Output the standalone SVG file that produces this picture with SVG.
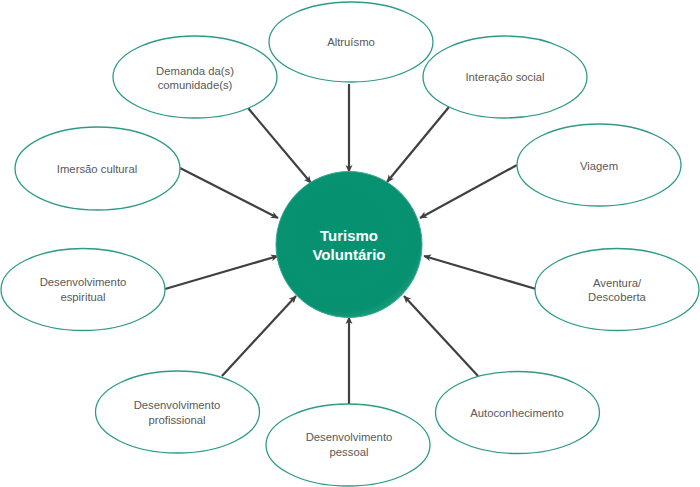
<svg xmlns="http://www.w3.org/2000/svg" width="700" height="487" viewBox="0 0 700 487">
  <defs>
    <marker id="arr" markerUnits="userSpaceOnUse" markerWidth="10" markerHeight="10" refX="8" refY="5" orient="auto">
      <path d="M1,1.5 L8.5,5 L1,8.5 L3,5 z" fill="#404040"/>
    </marker>
    <radialGradient id="g" cx="0.45" cy="0.42" r="0.6">
      <stop offset="0" stop-color="#05926f"/>
      <stop offset="0.9" stop-color="#079171"/>
      <stop offset="1" stop-color="#1c9d7d"/>
    </radialGradient>
  </defs>
  <style>
    .n ellipse { fill: #ffffff; stroke: #2f9a87; stroke-width: 1.3; }
    .n text { font-family: "Liberation Sans", Arial, sans-serif; font-size: 11.3px; fill: #595959; text-anchor: middle; }
    .c text { font-family: "Liberation Sans", Arial, sans-serif; font-size: 15px; font-weight: bold; fill: #ffffff; text-anchor: middle; }
    #edges line { stroke: #404040; stroke-width: 2.2; marker-end: url(#arr); }
  </style>
  <rect width="700" height="487" fill="#ffffff"/>

  <g id="edges">
    <line x1="248" y1="108" x2="311" y2="183"/>
    <line x1="349" y1="84" x2="349" y2="172"/>
    <line x1="449" y1="107" x2="387" y2="182"/>
    <line x1="180" y1="168" x2="278" y2="218"/>
    <line x1="517" y1="165" x2="420" y2="218"/>
    <line x1="165" y1="289" x2="278" y2="256"/>
    <line x1="536" y1="289" x2="424" y2="256"/>
    <line x1="222" y1="376" x2="296" y2="296"/>
    <line x1="349" y1="404" x2="349" y2="317"/>
    <line x1="478" y1="376" x2="404" y2="296"/>
  </g>

  <g id="center" class="c">
    <circle cx="349" cy="244.5" r="73" fill="url(#g)" stroke="#36a98a" stroke-width="1"/>
    <text x="349" y="240.5">Turismo</text>
    <text x="349" y="260">Voluntário</text>
  </g>

  <g id="demanda" class="n">
    <ellipse cx="195" cy="77" rx="82" ry="41"/>
    <text x="195" y="75">Demanda da(s)</text>
    <text x="195" y="89">comunidade(s)</text>
  </g>
  <g id="altruismo" class="n">
    <ellipse cx="351" cy="42" rx="82" ry="40"/>
    <text x="351" y="46">Altruísmo</text>
  </g>
  <g id="interacao" class="n">
    <ellipse cx="505" cy="77" rx="82" ry="41"/>
    <text x="505" y="81">Interação social</text>
  </g>
  <g id="imersao" class="n">
    <ellipse cx="97.5" cy="168.5" rx="82.5" ry="41.5"/>
    <text x="97" y="173">Imersão cultural</text>
  </g>
  <g id="viagem" class="n">
    <ellipse cx="599" cy="165" rx="82" ry="41"/>
    <text x="599" y="170">Viagem</text>
  </g>
  <g id="espiritual" class="n">
    <ellipse cx="83" cy="289.5" rx="82" ry="41"/>
    <text x="83" y="286">Desenvolvimento</text>
    <text x="83" y="301">espiritual</text>
  </g>
  <g id="aventura" class="n">
    <ellipse cx="617" cy="289.5" rx="82" ry="41"/>
    <text x="617" y="287">Aventura/</text>
    <text x="617" y="301">Descoberta</text>
  </g>
  <g id="profissional" class="n">
    <ellipse cx="177.5" cy="412" rx="82" ry="41"/>
    <text x="177" y="409">Desenvolvimento</text>
    <text x="177" y="424">profissional</text>
  </g>
  <g id="pessoal" class="n">
    <ellipse cx="348" cy="445" rx="82" ry="41"/>
    <text x="349" y="441">Desenvolvimento</text>
    <text x="349" y="456">pessoal</text>
  </g>
  <g id="autoconhecimento" class="n">
    <ellipse cx="517.5" cy="412.5" rx="82" ry="41"/>
    <text x="517" y="417">Autoconhecimento</text>
  </g>
</svg>
